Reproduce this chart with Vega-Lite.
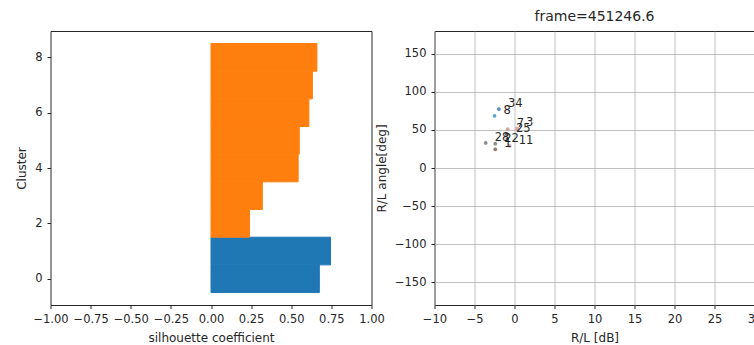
{
  "$schema": "https://vega.github.io/schema/vega-lite/v6.json",
  "padding": {"left": 14.5, "top": 9, "right": 0, "bottom": 0},
  "spacing": 63,
  "bounds": "flush",
  "resolve": {"scale": {"color": "independent"}},
  "config": {
    "font": "DejaVu Sans",
    "view": {"stroke": "#262626", "strokeWidth": 1},
    "axis": {
      "labelFont": "DejaVu Sans", "labelFontSize": 11.5, "labelColor": "#262626",
      "titleFont": "DejaVu Sans", "titleFontSize": 12, "titleFontWeight": "normal", "titleColor": "#262626",
      "tickColor": "#262626", "tickSize": 3.5, "domain": false, "grid": false, "labelPadding": 3, "titlePadding": 6,
      "labelOverlap": false, "labelFlush": false
    },
    "axisX": {"labelPadding": 4.5, "titlePadding": 7.5},
    "title": {"font": "DejaVu Sans", "fontSize": 14, "fontWeight": "normal", "color": "#262626", "offset": 7}
  },
  "hconcat": [
    {
      "width": 321,
      "height": 274,
      "data": {"values": [
        {"cluster": 0, "label": "0", "lower": -0.5, "upper": 0.5, "silhouette": 0.675},
        {"cluster": 1, "label": "0", "lower": 0.5, "upper": 1.5, "silhouette": 0.745},
        {"cluster": 2, "label": "1", "lower": 1.5, "upper": 2.5, "silhouette": 0.24},
        {"cluster": 3, "label": "1", "lower": 2.5, "upper": 3.5, "silhouette": 0.32},
        {"cluster": 4, "label": "1", "lower": 3.5, "upper": 4.5, "silhouette": 0.543},
        {"cluster": 5, "label": "1", "lower": 4.5, "upper": 5.5, "silhouette": 0.55},
        {"cluster": 6, "label": "1", "lower": 5.5, "upper": 6.5, "silhouette": 0.61},
        {"cluster": 7, "label": "1", "lower": 6.5, "upper": 7.5, "silhouette": 0.632},
        {"cluster": 8, "label": "1", "lower": 7.5, "upper": 8.5, "silhouette": 0.66}
      ]},
      "mark": {"type": "rect", "strokeWidth": 1},
      "encoding": {
        "x": {"field": "silhouette", "type": "quantitative",
              "scale": {"domain": [-1, 1], "nice": false, "zero": false},
              "axis": {"values": [-1, -0.75, -0.5, -0.25, 0, 0.25, 0.5, 0.75, 1], "format": ".2f", "title": "silhouette coefficient"}},
        "x2": {"datum": 0},
        "y": {"field": "lower", "type": "quantitative",
              "scale": {"domain": [-0.95, 8.95], "nice": false, "zero": false},
              "axis": {"values": [0, 2, 4, 6, 8], "title": "Cluster", "labelPadding": 5}},
        "y2": {"field": "upper"},
        "color": {"field": "label", "type": "nominal",
                  "scale": {"domain": ["0", "1"], "range": ["#1f77b4", "#ff7f0e"]}, "legend": null},
        "stroke": {"field": "label", "type": "nominal",
                  "scale": {"domain": ["0", "1"], "range": ["#1f77b4", "#ff7f0e"]}, "legend": null}
      }
    },
    {
      "width": 320,
      "height": 274,
      "title": "frame=451246.6",
      "data": {"values": [
        {"id": "34", "rl_db": -1.95, "rl_angle": 77.5},
        {"id": "8", "rl_db": -2.5, "rl_angle": 68.5},
        {"id": "7", "rl_db": -0.85, "rl_angle": 51},
        {"id": "3", "rl_db": 0.3, "rl_angle": 52},
        {"id": "25", "rl_db": -0.95, "rl_angle": 44.5},
        {"id": "28", "rl_db": -3.6, "rl_angle": 33},
        {"id": "22", "rl_db": -2.4, "rl_angle": 32},
        {"id": "1", "rl_db": -2.4, "rl_angle": 24.5},
        {"id": "11", "rl_db": -0.6, "rl_angle": 29}
      ]},
      "encoding": {
        "x": {"field": "rl_db", "type": "quantitative",
              "scale": {"domain": [-10, 30], "nice": false, "zero": false},
              "axis": {"values": [-10, -5, 0, 5, 10, 15, 20, 25, 30], "grid": true, "gridColor": "#b0b0b0", "gridWidth": 0.8, "title": "R/L [dB]"}},
        "y": {"field": "rl_angle", "type": "quantitative",
              "scale": {"domain": [-180, 180], "nice": false, "zero": false},
              "axis": {"values": [-150, -100, -50, 0, 50, 100, 150], "grid": true, "gridColor": "#b0b0b0", "gridWidth": 0.8, "title": "R/L angle[deg]", "labelPadding": 5}}
      },
      "layer": [
        {
          "mark": {"type": "circle", "size": 14, "opacity": 0.9},
          "encoding": {
            "color": {"field": "id", "type": "nominal", "legend": null,
                      "scale": {"domain": ["34", "8", "7", "3", "25", "28", "22", "1", "11"],
                                "range": ["#3a7fb5", "#4a9cc4", "#c49c94", "#d69aa8", "#9c7b73", "#7f7f7f", "#7f7f7f", "#8c6d66", "#d7a3b0"]}}
          }
        },
        {
          "mark": {"type": "text", "align": "left", "baseline": "alphabetic", "dx": 9, "dy": -2, "fontSize": 11.5, "color": "#262626"},
          "encoding": {"text": {"field": "id"}}
        }
      ]
    }
  ]
}
